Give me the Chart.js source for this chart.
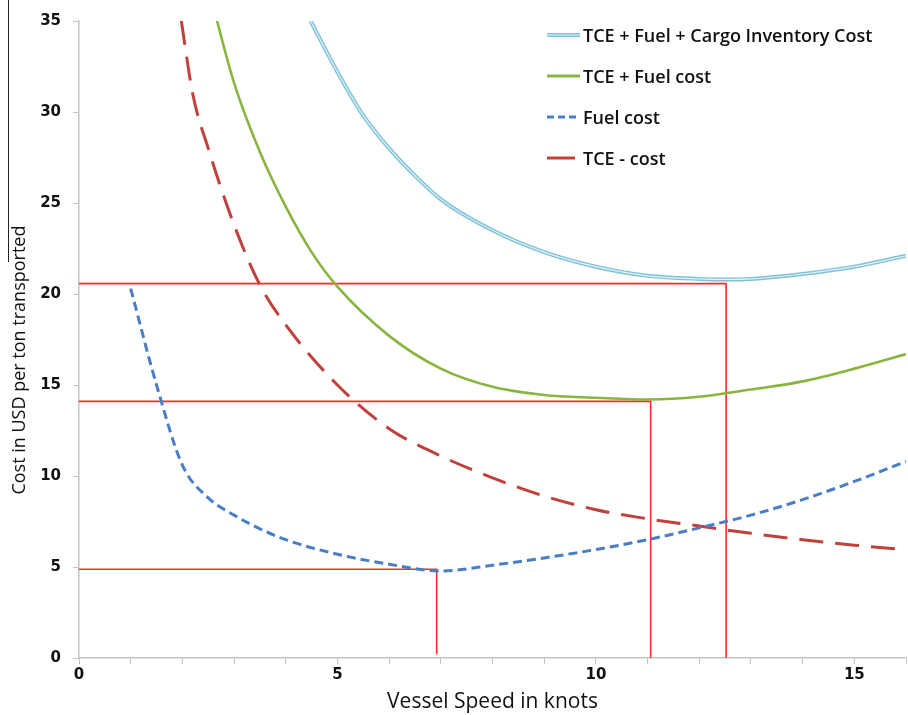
<!DOCTYPE html>
<html>
<head>
<meta charset="utf-8">
<script src="https://cdn.jsdelivr.net/npm/chart.js@4"></script>
<style>
  html, body { margin: 0; padding: 0; background: #fff; }
  #wrap { position: relative; width: 908px; height: 715px; }
  #legend { position: absolute; left: 547px; top: 22px; font-family: "Open Sans", sans-serif; font-weight: 600; font-size: 18px; color: #111; }
  .item { display: flex; align-items: center; height: 26px; margin-bottom: 15px; white-space: nowrap; }
  .item svg { width: 36px; height: 10px; flex: none; }
  #rule { position: absolute; left: 8px; top: 0; width: 1px; height: 262px; background: #222; }
</style>
</head>
<body>
<div id="wrap">
  <canvas id="c" width="908" height="715"></canvas>
  <div id="legend"></div>
  <div id="rule"></div>
</div>
<script>
// ---- data ----
const tceFuelCargoSpeed = [4.48, 5, 5.5, 6, 6.5, 7, 8, 9, 10, 11, 12, 12.5, 13, 14, 15, 16];
const tceFuelCargoCost  = [35.0, 32.2, 29.8, 28.0, 26.5, 25.2, 23.5, 22.3, 21.5, 21.0, 20.83, 20.8, 20.83, 21.1, 21.5, 22.1];

const tceFuelSpeed = [2.67, 3, 3.5, 4, 4.5, 5, 6, 7, 8, 9, 10, 11, 12, 13, 14, 15, 16];
const tceFuelCost  = [35.0, 31.6, 27.8, 24.8, 22.3, 20.4, 17.7, 15.9, 14.9, 14.45, 14.3, 14.2, 14.35, 14.75, 15.2, 15.9, 16.7];

const fuelSpeed = [1.0, 1.5, 2, 2.5, 3, 3.5, 4, 5, 6, 7, 8, 9, 10, 11, 12, 13, 14, 15, 16];
const fuelCost  = [20.3, 15.0, 10.6, 8.8, 7.85, 7.1, 6.5, 5.7, 5.15, 4.78, 5.1, 5.5, 5.96, 6.5, 7.15, 7.85, 8.7, 9.7, 10.8];

const tceSpeed = [1.98, 2.2, 2.5, 3, 3.5, 4, 5, 6, 7, 8, 9, 10, 11, 12, 13, 14, 15, 16];
const tceCost  = [35.0, 31.0, 28.0, 23.8, 20.5, 18.3, 15.0, 12.6, 11.1, 9.9, 8.9, 8.15, 7.65, 7.25, 6.85, 6.5, 6.2, 5.95];

// optimum markers (speed, cost at optimum, where the drop line ends)
const optimumSpeed  = [12.52, 11.06, 6.92];
const optimumCost   = [20.57, 14.1, 4.88];
const optimumBottom = [0, 0, 0.2];

const xTicks = [0, 5, 10, 15];
const yMin = 0, yMax = 35, yStep = 5;
const xMin = 0, xMax = 16;

const seriesNames = ["TCE + Fuel + Cargo Inventory Cost", "TCE + Fuel cost", "Fuel cost", "TCE - cost"];
const xTitle = "Vessel Speed in knots";
const yTitle = "Cost in USD per ton transported";

// ---- build datasets ----
const pts = (xs, ys) => xs.map((x, i) => ({ x: x, y: ys[i] }));

const datasets = [];
optimumSpeed.forEach((s, i) => {
  datasets.push({
    label: "opt" + i, data: [{ x: 0, y: optimumCost[i] }, { x: s, y: optimumCost[i] }, { x: s, y: optimumBottom[i] }],
    borderColor: "#FF2B2B", borderWidth: 1.6, pointRadius: 0, tension: 0, order: 10
  });
});
datasets.push({ label: "tce", data: pts(tceSpeed, tceCost), borderColor: "#C0413C", borderWidth: 3, borderDash: [24, 12], pointRadius: 0, cubicInterpolationMode: "monotone", order: 5 });
datasets.push({ label: "fuel", data: pts(fuelSpeed, fuelCost), borderColor: "#4A7EC4", borderWidth: 3, borderDash: [9, 5], pointRadius: 0, cubicInterpolationMode: "monotone", order: 4 });
datasets.push({ label: "tcefuel", data: pts(tceFuelSpeed, tceFuelCost), borderColor: "#8AB440", borderWidth: 2.6, pointRadius: 0, cubicInterpolationMode: "monotone", order: 3 });
datasets.push({ label: "all", data: pts(tceFuelCargoSpeed, tceFuelCargoCost), borderColor: "#7FC2D8", borderWidth: 4, pointRadius: 0, cubicInterpolationMode: "monotone", order: 2 });
datasets.push({ label: "allInner", data: pts(tceFuelCargoSpeed, tceFuelCargoCost), borderColor: "#E2F3F8", borderWidth: 1.2, pointRadius: 0, cubicInterpolationMode: "monotone", order: 1 });

const chart = new Chart(document.getElementById("c"), {
  type: "line",
  data: { datasets: datasets },
  options: {
    responsive: false,
    animation: false,
    layout: { padding: { top: 13, right: 0, left: 0, bottom: 0 } },
    plugins: { legend: { display: false }, tooltip: { enabled: false } },
    scales: {
      x: {
        type: "linear", min: xMin, max: xMax,
        afterFit: s => { s.height = 57; },
        afterBuildTicks: s => { s.ticks = []; for (let v = xMin; v <= xMax; v++) s.ticks.push({ value: v }); },
        ticks: {
          autoSkip: false, maxRotation: 0, padding: 2, color: "#111",
          font: { family: "DejaVu Sans", weight: "bold", size: 15 },
          callback: v => xTicks.includes(v) ? String(v) : ""
        },
        grid: { drawOnChartArea: false, drawTicks: true, tickLength: 6, color: "#c4c4c4" },
        border: { color: "#c4c4c4", width: 1.5 },
        title: { display: true, text: xTitle, color: "#111", padding: { top: 4, bottom: 0 },
                 font: { family: "Open Sans, sans-serif", size: 21 } }
      },
      y: {
        min: yMin, max: yMax,
        afterFit: s => { s.width = 79; },
        ticks: { stepSize: yStep, padding: 12, color: "#111", font: { family: "DejaVu Sans", weight: "bold", size: 15 } },
        grid: { drawOnChartArea: false, drawTicks: true, tickLength: 6, color: "#c4c4c4" },
        border: { color: "#c4c4c4", width: 1.5 },
        title: { display: true, text: yTitle + "\u2007\u2007\u2007\u2007", color: "#111", padding: { top: 9, bottom: 0 },
                 font: { family: "Open Sans, sans-serif", size: 18 } }
      }
    }
  }
});

// ---- HTML legend ----
const legendSamples = [
  '<svg viewBox="0 0 36 10"><line x1="0" y1="5" x2="33" y2="5" stroke="#7FC2D8" stroke-width="4"/><line x1="0" y1="5" x2="33" y2="5" stroke="#E2F3F8" stroke-width="1.2"/></svg>',
  '<svg viewBox="0 0 36 10"><line x1="0" y1="5" x2="33" y2="5" stroke="#8AB440" stroke-width="3"/></svg>',
  '<svg viewBox="0 0 36 10"><line x1="0" y1="5" x2="32" y2="5" stroke="#4A7EC4" stroke-width="3" stroke-dasharray="7,4"/></svg>',
  '<svg viewBox="0 0 36 10"><line x1="0" y1="5" x2="28" y2="5" stroke="#C0413C" stroke-width="3"/></svg>'
];
document.getElementById("legend").innerHTML = seriesNames.map((n, i) =>
  '<div class="item">' + legendSamples[i] + '<span>' + n + '</span></div>').join("");
</script>
</body>
</html>
